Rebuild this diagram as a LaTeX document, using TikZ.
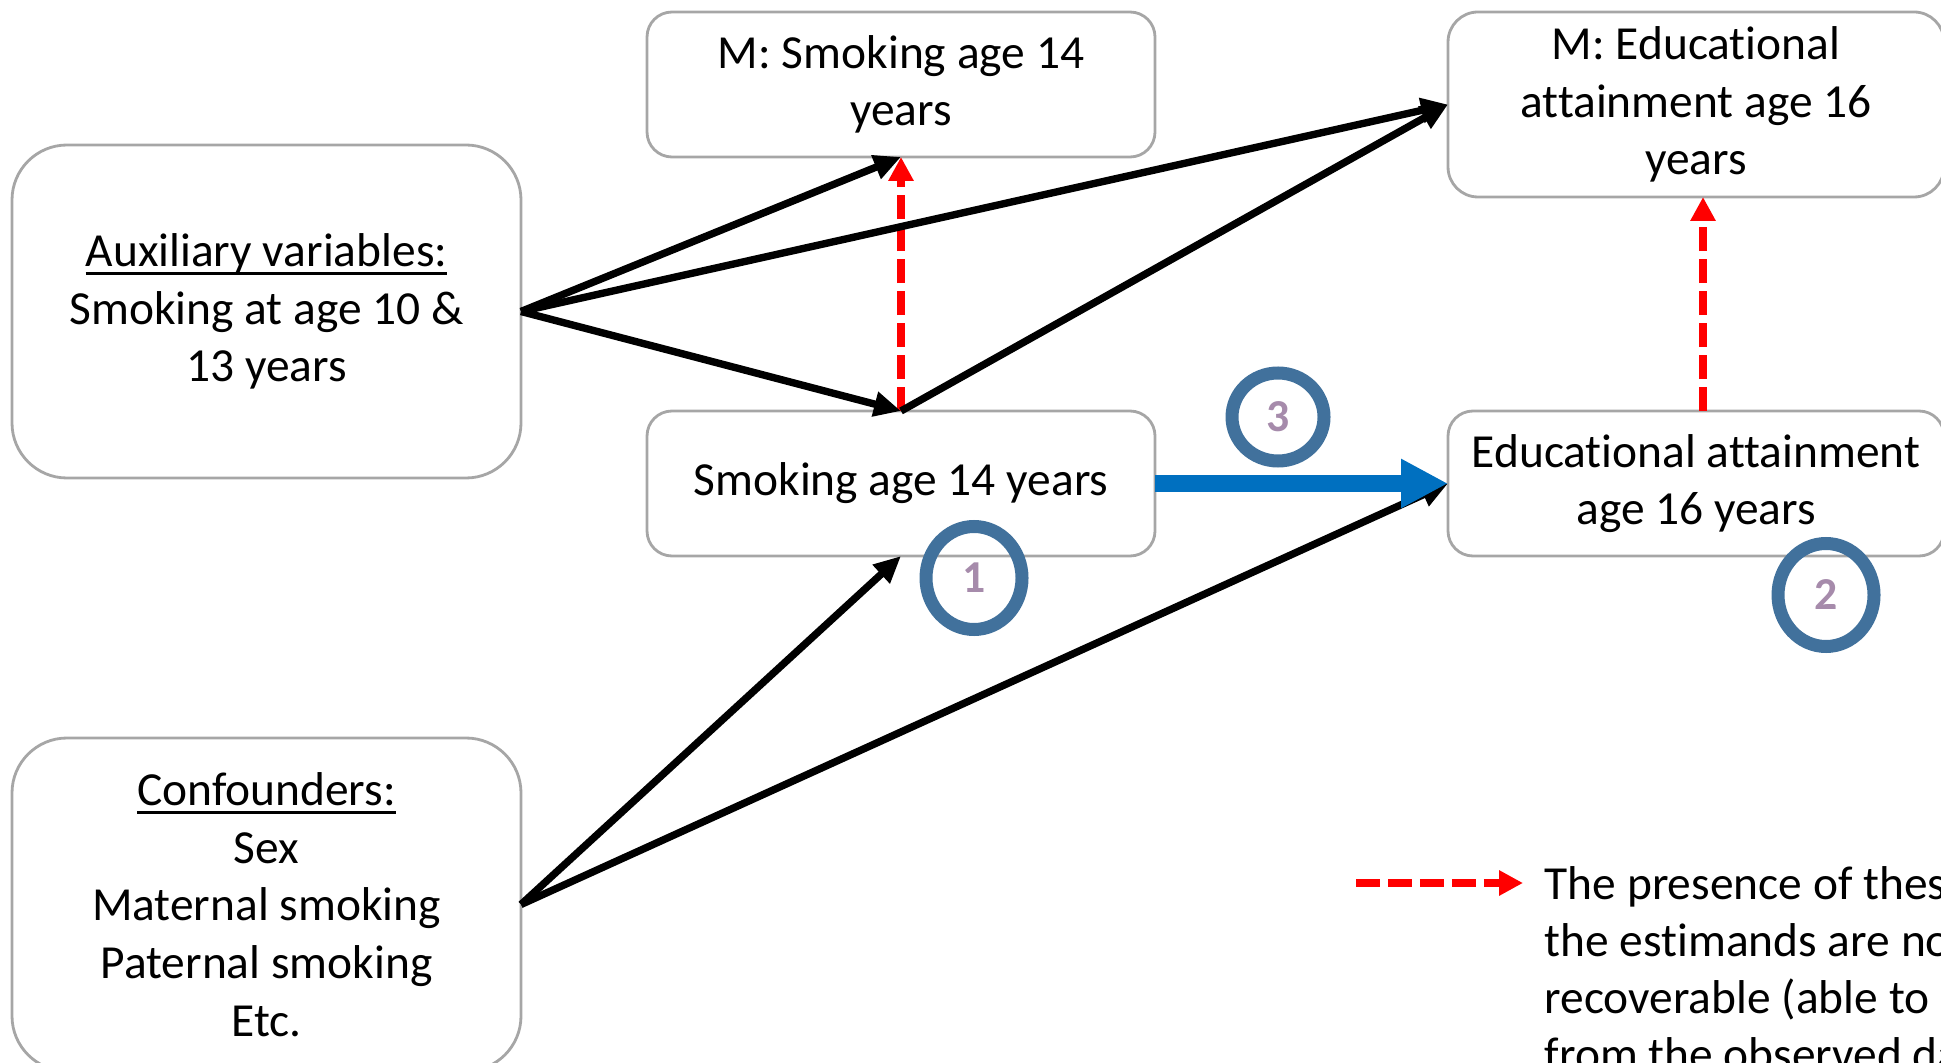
\documentclass[tikz,border=0pt]{standalone}
\usepackage{fontspec}
\setmainfont{Carlito}[Ligatures=NoCommon]
\usetikzlibrary{arrows.meta}
\usetikzlibrary{shapes.geometric}
\definecolor{boxgray}{RGB}{166,166,166}
\definecolor{pathblue}{RGB}{0,112,192}
\definecolor{ringblue}{RGB}{65,113,156}
\definecolor{numlilac}{RGB}{166,139,171}
\newcommand{\ulabel}[1]{\setbox0\hbox{#1}\rlap{\rule[-2.5pt]{\wd0}{0.9pt}}\box0}
\tikzset{
  varbox/.style={draw=boxgray,line width=0.8pt,rounded corners=0.25cm,align=center,inner sep=0pt,outer sep=0pt,font=\fontsize{13.5}{16.4}\selectfont},
  bigbox/.style={varbox,rounded corners=0.55cm,minimum width=5.09cm,minimum height=3.33cm},
  numring/.style={ellipse,draw=ringblue,line width=3.7pt,minimum width=0.96cm,minimum height=1.03cm,inner sep=0pt,text=numlilac,font=\bfseries\fontsize{13}{15}\selectfont},
  causal/.style={->,line width=2.1pt},
  missing/.style={-{Triangle[length=0.24cm,width=0.24cm]},red,line width=2.3pt,dash pattern=on 6.8pt off 2.3pt},
}
\begin{document}
\begin{tikzpicture}[line cap=butt,line join=miter,>={Triangle[length=0.27cm,width=0.24cm]},x=1.0cm,y=1.0cm]
      \useasboundingbox (0.,0.) rectangle (19.41,10.62);
      \node [varbox,minimum width=5.08cm,minimum height=1.45cm] (msmk) at (9.01,9.775) {M: Smoking age 14\\years};
      \node [varbox,rounded corners=0.3cm,minimum width=4.96cm,minimum height=1.85cm] (medu) at (16.96,9.575) {M: Educational\\attainment age 16\\years};
      \node [bigbox] (aux) at (2.665,7.505) {\ulabel{Auxiliary variables:}\\Smoking at age 10 \&\\13 years};
      \node [varbox,minimum width=5.08cm,minimum height=1.45cm] (smk) at (9.01,5.785) {Smoking age 14 years};
      \node [varbox,minimum width=4.96cm,minimum height=1.45cm] (edu) at (16.96,5.785) {Educational attainment\\age 16 years};
      \node [bigbox] (conf) at (2.665,1.575) {\ulabel{Confounders:}\\Sex\\Maternal smoking\\Paternal smoking\\Etc.};
      \draw [missing] (smk.north) -- (msmk.south);
      \draw [missing] ([xshift=0.07cm]edu.north) -- ([xshift=0.07cm]medu.south);
      \draw [causal] (aux.east) -- (msmk.south);
      \draw [causal] (aux.east) -- (medu.west);
      \draw [causal] (aux.east) -- (smk.north);
      \draw [causal] (smk.north) -- (medu.west);
      \draw [causal] (conf.east) -- (smk.south);
      \draw [causal] (conf.east) -- (edu.west);
      \draw [-{Triangle[length=0.47cm,width=0.46cm]},pathblue,line width=4.9pt] (smk.east) -- (edu.west);
      \node [numring] (one) at (9.74,4.84) {1};
      \node [numring] (two) at (18.26,4.67) {2};
      \node [numring,minimum width=0.92cm,minimum height=0.88cm] (three) at (12.78,6.45) {3};
      \coordinate (keyA) at (13.56,1.79);
      \coordinate (keyB) at (15.23,1.79);
      \draw [missing] (keyA) -- (keyB);
      \node [anchor=north west,align=left,inner sep=0pt,font=\fontsize{13.5}{16.2}\selectfont] (keytext) at (15.44,1.96) {The presence of these\\the estimands are not\\recoverable (able to be\\from the observed data};
\end{tikzpicture}
\end{document}
